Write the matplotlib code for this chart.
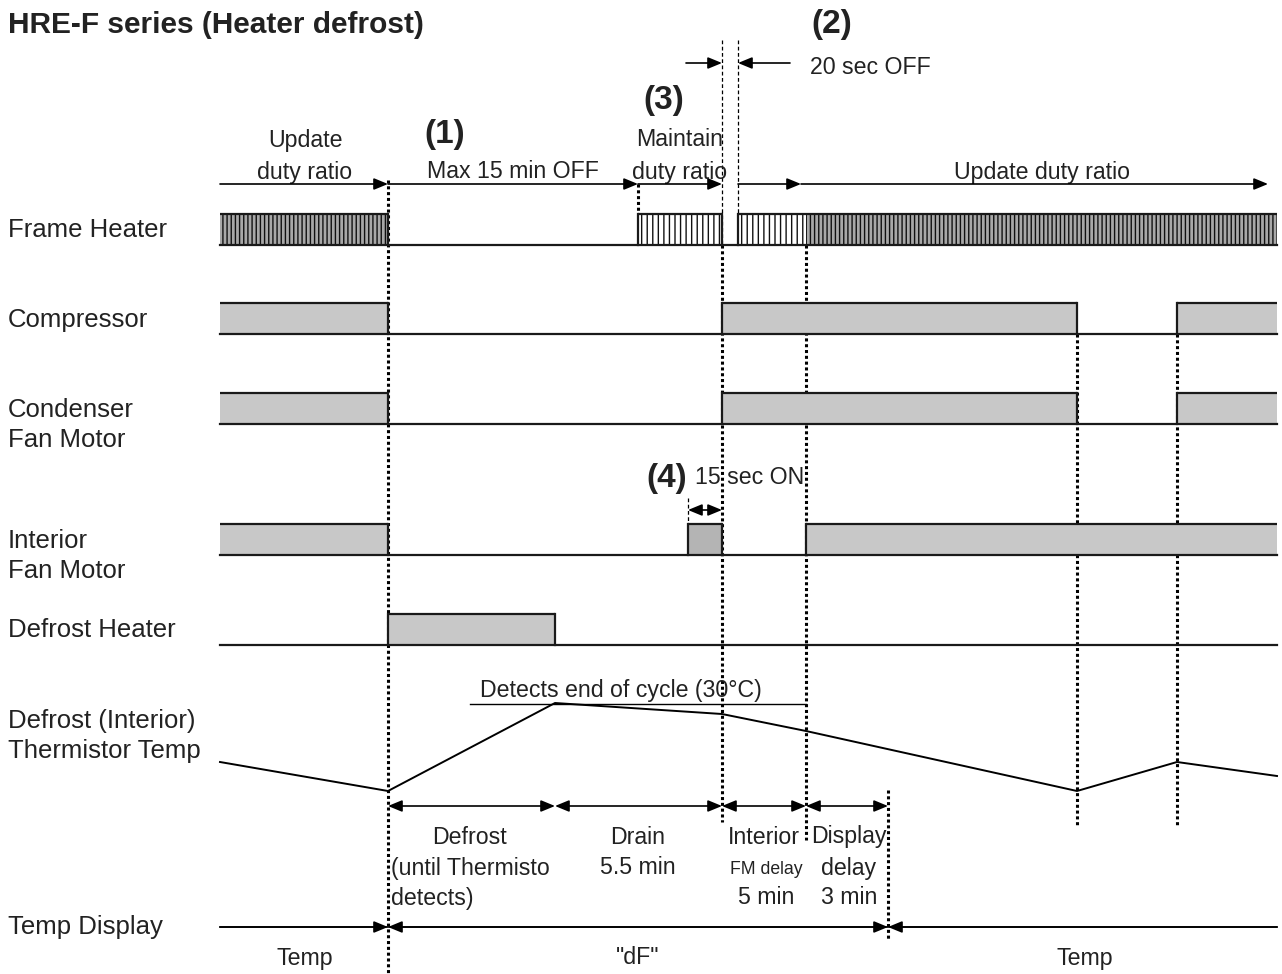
import numpy as np
import matplotlib
matplotlib.use("Agg")
import matplotlib.pyplot as plt

plt.rcParams['font.family'] = ['Liberation Sans', 'DejaVu Sans']
plt.rcParams['hatch.linewidth'] = 1.0

# event times (diagram units, left to right)
t_start = 220
t_defrost = 388      # defrost starts
t_thermo = 555       # thermistor detects end of cycle
t_maintain = 638     # frame heater resumes (maintain duty)
t_fan15 = 688        # interior fan 15 sec ON
t_drain = 722        # drain ends
t_restart = 738      # 20 sec OFF ends
t_fm = 806           # interior FM delay ends
t_disp = 888         # display delay ends
t_comp_off = 1077
t_comp_on = 1177
t_end = 1277

# rows: name, baseline level
row_names = ["Frame Heater", "Compressor", "Condenser\nFan Motor",
             "Interior\nFan Motor", "Defrost Heater"]
row_low = [245, 334, 424, 555, 645]
row_label_y = [230, 320, 425, 556, 630]
pulse_h = 31

frame_on = [(t_start, t_defrost, 'dense'), (t_maintain, t_drain, 'sparse'),
            (t_restart, t_fm, 'sparse'), (t_fm, t_end, 'dense')]
comp_on = [(t_start, t_defrost), (t_drain, t_comp_off), (t_comp_on, t_end)]
cond_on = [(t_start, t_defrost), (t_drain, t_comp_off), (t_comp_on, t_end)]
fan_on = [(t_start, t_defrost), (t_fan15, t_drain), (t_fm, t_end)]
heater_on = [(t_defrost, t_thermo)]

# thermistor temperature curve (diagram units)
temp_x = [t_start, t_defrost, t_thermo, t_drain, t_fm, t_comp_off, t_comp_on, t_end]
temp_y = [762, 791, 703, 714, 731, 791, 762, 776]

fig = plt.figure(figsize=(12.82, 9.74), dpi=100)
ax = fig.add_axes([0, 0, 1, 1])
ax.set_xlim(0, 1282)
ax.set_ylim(974, 0)
ax.axis('off')

FS = 16.7
FSL = 18.5
LW = 1.6
GRAY = '#c8c8c8'
TXT = '#222222'


def dotted(x, y0, y1, thick=True):
    if thick:
        ax.plot([x, x], [y0, y1], color='black', lw=2.2, ls=(0, (1.0, 0.9)), zorder=1)
    else:
        ax.plot([x, x], [y0, y1], color='black', lw=0.9, ls=(0, (3, 2)), zorder=1)


def arrow(x0, x1, y, both=False, lw=1.2):
    style = '<|-|>' if both else '-|>'
    ax.annotate('', xy=(x1, y), xytext=(x0, y),
                arrowprops=dict(arrowstyle=style + ',head_length=0.85,head_width=0.35',
                                color='black', lw=lw, shrinkA=0, shrinkB=0))


def outline(low, intervals):
    # merge touching intervals, then draw the waveform without edges at the frame ends
    merged = []
    for a, b in intervals:
        if merged and merged[-1][1] == a:
            merged[-1][1] = b
        else:
            merged.append([a, b])
    hi = low - pulse_h
    ax.plot([t_start, t_end], [low, low], color='#1a1a1a', lw=LW, zorder=4)
    for a, b in merged:
        ax.plot([a, b], [hi, hi], color='#1a1a1a', lw=LW, zorder=4, solid_capstyle='butt')
        if a != t_start:
            ax.plot([a, a], [low, hi], color='#1a1a1a', lw=LW, zorder=4)
        if b != t_end:
            ax.plot([b, b], [low, hi], color='#1a1a1a', lw=LW, zorder=4)


def signal(low, intervals, color=GRAY):
    for a, b in intervals:
        ax.fill_between([a, b], low, low - pulse_h, color=color, lw=0, zorder=2)
    outline(low, intervals)


# vertical guide lines
dotted(t_defrost, 180, 974)
dotted(t_drain, 40, 245, thick=False)
dotted(t_drain, 245, 822)
dotted(t_restart, 40, 213, thick=False)
dotted(t_fm, 245, 840)
dotted(t_maintain, 184, 213)
dotted(t_fan15, 498, 524, thick=False)
dotted(t_disp, 790, 940)
dotted(t_comp_off, 334, 825)
dotted(t_comp_on, 334, 825)

# frame heater (striped)
low = row_low[0]
for a, b, kind in frame_on:
    if kind == 'dense':
        ax.fill_between([a, b], low, low - pulse_h, facecolor='#a8a8a8',
                        edgecolor='#111111', hatch='||||', lw=0, zorder=2)
    else:
        ax.fill_between([a, b], low, low - pulse_h, facecolor='white',
                        edgecolor='#111111', hatch='|||', lw=0, zorder=2)
outline(low, [(a, b) for a, b, k in frame_on])

signal(row_low[1], comp_on)
signal(row_low[2], cond_on)
signal(row_low[3], fan_on)
ax.fill_between([t_fan15, t_drain], row_low[3], row_low[3] - pulse_h, color='#b4b4b4', lw=0, zorder=3)
signal(row_low[4], heater_on)

# row labels
for name, y in zip(row_names, row_label_y):
    ax.text(8, y, name, fontsize=FSL, ha='left', va='center', linespacing=1.33, color=TXT)
ax.text(8, 736, "Defrost (Interior)\nThermistor Temp", fontsize=FSL, ha='left', va='center',
        linespacing=1.33, color=TXT)
ax.text(8, 927, "Temp Display", fontsize=FSL, ha='left', va='center', color=TXT)

# thermistor temperature
ax.plot(temp_x, temp_y, color='black', lw=1.4, zorder=4)
ax.plot([470, t_fm], [704, 704], color='black', lw=1.0, zorder=4)
ax.text(621, 691, "Detects end of cycle (30°C)", fontsize=FS, ha='center', va='center', color=TXT)

# title and notes
ax.text(8, 25, "HRE-F series (Heater defrost)", fontsize=21.5, fontweight='bold', ha='left', va='center', color=TXT)
ax.text(832, 25, "(2)", fontsize=24, fontweight='bold', ha='center', va='center', color=TXT)
ax.text(664, 100, "(3)", fontsize=24, fontweight='bold', ha='center', va='center', color=TXT)
ax.text(445, 135, "(1)", fontsize=24, fontweight='bold', ha='center', va='center', color=TXT)
ax.text(667, 478, "(4)", fontsize=24, fontweight='bold', ha='center', va='center', color=TXT)
ax.text(750, 478, "15 sec ON", fontsize=FS, ha='center', va='center', color=TXT)
ax.text(810, 67, "20 sec OFF", fontsize=FS, ha='left', va='center', color=TXT)

arrow(686, t_drain, 63)
arrow(790, t_restart, 63)
arrow(t_fan15, t_drain, 510, both=True)

# top duty ratio labels and arrows
ax.text(305, 140, "Update", fontsize=FS, ha='center', va='center', color=TXT)
ax.text(305, 172, "duty ratio", fontsize=FS, ha='center', va='center', color=TXT)
ax.text(513, 172, "Max 15 min OFF", fontsize=FS, ha='center', va='center', color=TXT)
ax.text(680, 140, "Maintain", fontsize=FS, ha='center', va='center', color=TXT)
ax.text(680, 172, "duty ratio", fontsize=FS, ha='center', va='center', color=TXT)
ax.text(1042, 172, "Update duty ratio", fontsize=FS, ha='center', va='center', color=TXT)
arrow(t_start, t_defrost, 184)
arrow(t_defrost, t_maintain, 184)
arrow(t_maintain, t_drain, 184)
arrow(t_restart, t_fm - 5, 184)
arrow(t_fm - 5, 1268, 184)

# phase durations
for a, b in [(t_defrost, t_thermo), (t_thermo, t_drain), (t_drain, t_fm), (t_fm, t_disp)]:
    arrow(a, b, 806, both=True)
ax.text(470, 837, "Defrost", fontsize=FS, ha='center', va='center', color=TXT)
ax.text(391, 868, "(until Thermisto", fontsize=FS, ha='left', va='center', color=TXT)
ax.text(391, 898, "detects)", fontsize=FS, ha='left', va='center', color=TXT)
ax.text(638, 837, "Drain", fontsize=FS, ha='center', va='center', color=TXT)
ax.text(638, 868, "5.5 min", fontsize=FS, ha='center', va='center', color=TXT)
ax.text(764, 837, "Interior", fontsize=FS, ha='center', va='center', color=TXT)
ax.text(766, 869, "FM delay", fontsize=12.7, ha='center', va='center', color=TXT)
ax.text(766, 898, "5 min", fontsize=FS, ha='center', va='center', color=TXT)
ax.text(849, 837, "Display", fontsize=FS, ha='center', va='center', color=TXT)
ax.text(849, 868, "delay", fontsize=FS, ha='center', va='center', color=TXT)
ax.text(849, 898, "3 min", fontsize=FS, ha='center', va='center', color=TXT)

# temp display
ax.plot([t_start, t_end], [927, 927], color='black', lw=1.2, zorder=3)
arrow(t_start, t_defrost, 927)
arrow(t_defrost, t_disp, 927, both=True)
arrow(t_end, t_disp, 927)
ax.text(305, 958, "Temp", fontsize=FS, ha='center', va='center', color=TXT)
ax.text(638, 958, '"dF"', fontsize=FS, ha='center', va='center', color=TXT)
ax.text(1085, 958, "Temp", fontsize=FS, ha='center', va='center', color=TXT)

fig.savefig("out.png", dpi=100)
